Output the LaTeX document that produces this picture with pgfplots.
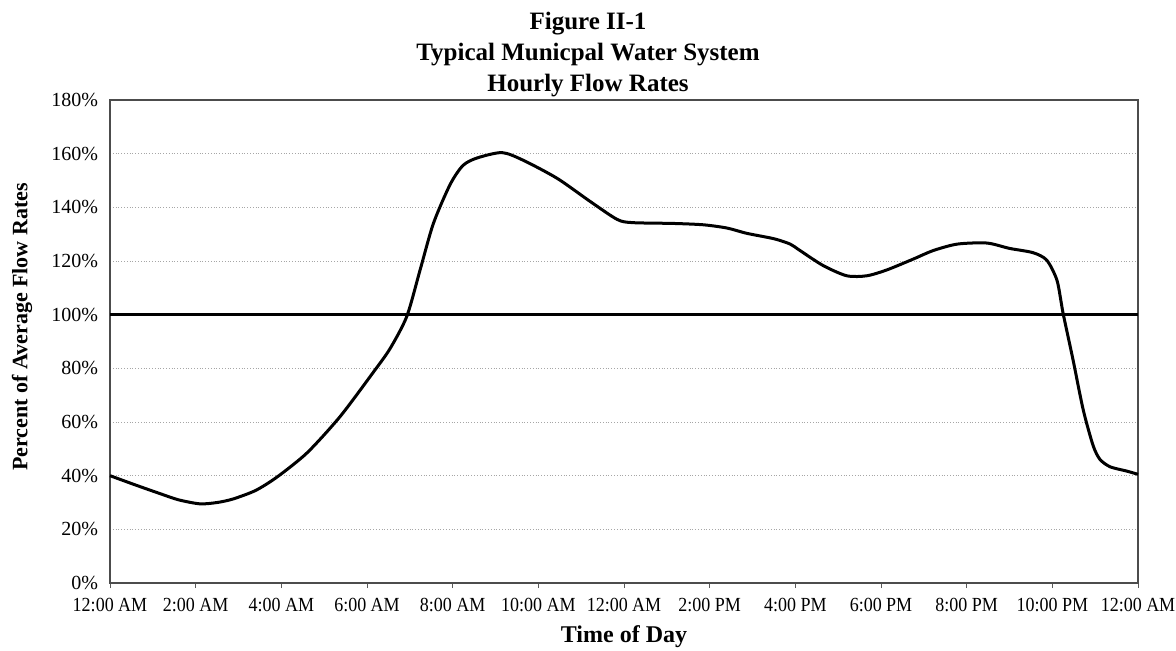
\documentclass[border=0pt]{standalone}
\usepackage{fontspec}
\setmainfont{Liberation Serif}
\usepackage{graphicx}
\usepackage{pgfplots}
\pgfplotsset{compat=1.18}
\newcommand{\tl}[1]{\scalebox{0.9}[1]{#1}}
\begin{document}
\begin{tikzpicture}
\useasboundingbox (0,0) rectangle (588pt,325pt);
\begin{axis}[
  at={(55pt,33.5pt)}, anchor=south west,
  scale only axis, width=514pt, height=241.5pt,
  xmin=0, xmax=24, ymin=0, ymax=180,
  xtick={0,2,...,24},
  xticklabels={\tl{12:00 AM},\tl{2:00 AM},\tl{4:00 AM},\tl{6:00 AM},\tl{8:00 AM},\tl{10:00 AM},\tl{12:00 AM},\tl{2:00 PM},\tl{4:00 PM},\tl{6:00 PM},\tl{8:00 PM},\tl{10:00 PM},\tl{12:00 AM}},
  ytick={0,20,...,180},
  yticklabel={\pgfmathprintnumber{\tick}\%},
  /pgf/number format/assume math mode=true,
  tick label style={font=\fontsize{10}{12}\selectfont},
  xticklabel style={yshift=-1.5pt},
  xtick pos=bottom, ytick pos=left,
  tick align=outside,
  major tick length=2.5pt,
  ytick style={draw=none},
  xtick style={gray!70!black, line width=0.5pt},
  axis line style={gray!60!black, line width=0.6pt},
  ymajorgrids,
  grid style={gray!70, densely dotted, line width=0.4pt},
  title={Figure II-1\\Typical Municpal Water System\\Hourly Flow Rates},
  title style={at={(axis description cs:0.465,1)}, anchor=south, inner sep=0pt, yshift=-4.75pt,
    align=center, font=\bfseries\fontsize{12.5}{15.5}\selectfont},
  xlabel={Time of Day},
  xlabel style={at={(axis description cs:0.5,0)}, anchor=base, yshift=-29.5pt,
    font=\bfseries\fontsize{12}{14}\selectfont},
  ylabel={Percent of Average Flow Rates},
  ylabel style={at={(axis description cs:-0.0856,0.53)}, anchor=center,
    font=\bfseries\fontsize{11}{13}\selectfont},
  clip=false,
]
\addplot [black, line width=1.5pt] coordinates {(0,100) (24,100)};
\addplot [black, line width=1.5pt, smooth, tension=0.45] coordinates {
(0,40) (0.6,36.5) (1.17,33.3) (1.6,31) (2.1,29.5) (2.5,30) (2.87,31.3)
(3.4,34.5) (3.9,39.5) (4.6,48.5) (5.37,62) (6.15,78.6) (6.54,87.4)
(6.93,99.4) (7.24,116.7) (7.55,134) (7.94,148.5) (8.24,155.6) (8.57,158.4)
(9.15,160.4) (9.64,157.6) (10.44,150.8) (11.2,142.3) (11.84,135.5)
(12.2,134.3) (13.15,134) (13.85,133.5) (14.4,132.3) (14.87,130.3)
(15.5,128.3) (15.88,126.3) (16.1,124) (16.65,118.3) (17.2,114.5)
(17.67,114.5) (18.14,116.7) (18.75,120.7) (19.22,123.9) (19.78,126.3)
(20.47,126.7) (21.0,124.7) (21.55,123.1) (21.87,120.3) (22.11,112.7)
(22.25,100.6) (22.48,83.4) (22.72,64.6) (22.95,51.3) (23.11,46.1)
(23.35,43.3) (23.74,41.7) (24,40.5)};
\end{axis}
\end{tikzpicture}
\end{document}
